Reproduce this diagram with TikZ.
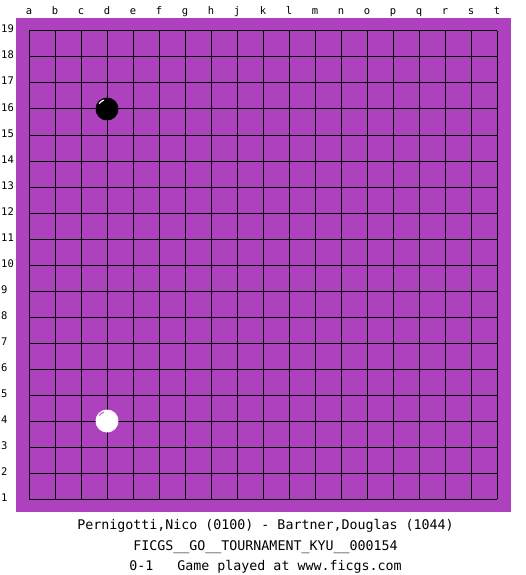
\documentclass[tikz,border=0pt]{standalone}
\usepackage{fontspec}
\setmonofont{DejaVu Sans Mono}
\definecolor{board}{RGB}{174,66,190}
\begin{document}
\begin{tikzpicture}[x=1pt,y=-1pt,
  gridline/.style={line width=1pt, black},
  lbl/.style={font=\ttfamily\fontsize{10.5}{10.5}\selectfont, inner sep=0pt},
  caption/.style={font=\ttfamily\fontsize{13.3}{13.3}\selectfont, inner sep=0pt, anchor=base},
  stone/.style={circle, minimum size=23pt, inner sep=0pt},
  shine/.style={line width=1.3pt, line cap=round}]
\useasboundingbox (0,0) rectangle (525,575);
\fill[white] (0,0) rectangle (525,575);
\fill[board] (16,18) rectangle (511,512);
\foreach \i in {0,...,18} {
  \draw[gridline] ({29+26*\i},31) -- ({29+26*\i},499);
  \draw[gridline] (29,{31+26*\i}) -- (497,{31+26*\i});
}
\foreach \c [count=\n from 0] in {a,b,c,d,e,f,g,h,j,k,l,m,n,o,p,q,r,s,t} {
  \node[lbl, anchor=base] (col\c) at ({29+26*\n},14.5) {\c};
}
\foreach \r [count=\n from 0] in {19,18,...,1} {
  \node[lbl, anchor=base west] (row\r) at (1,{33+26*\n}) {\r};
}
\node[stone, fill=black] (b16) at (107,109) {};
\draw[shine, white] ([shift={(110:9.5pt)}]b16.center) arc[start angle=110, end angle=145, radius=9.5pt];
\node[stone, fill=white] (w4) at (107,421) {};
\draw[shine, board!70!white] ([shift={(110:9.5pt)}]w4.center) arc[start angle=110, end angle=145, radius=9.5pt];
\node[caption] (players) at (265.5,529) {Pernigotti,Nico (0100) - Bartner,Douglas (1044)};
\node[caption] (event) at (265.5,550) {FICGS\_\_GO\_\_TOURNAMENT\_KYU\_\_000154};
\node[caption] (result) at (265.5,570) {0-1\ \ \ Game played at www.ficgs.com};
\end{tikzpicture}
\end{document}
